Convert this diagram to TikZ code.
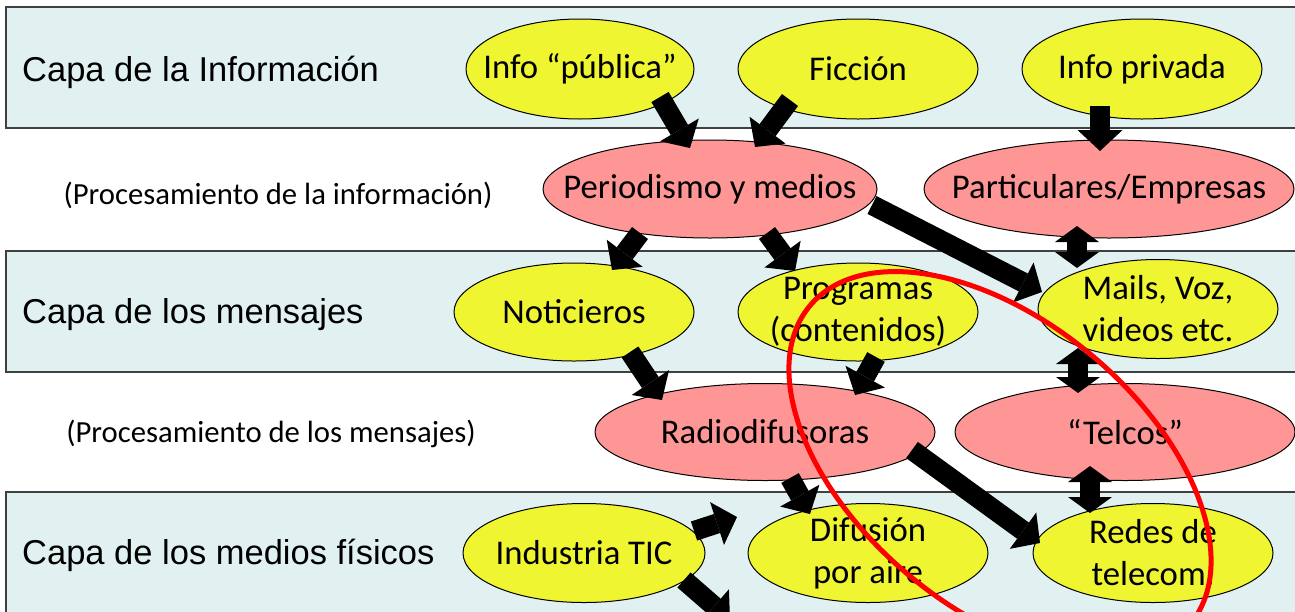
\documentclass[tikz,border=0pt]{standalone}
\usepackage{fontspec}
\setmainfont{Carlito}
\newfontfamily\arialf{Liberation Sans}
\usetikzlibrary{shapes.geometric,arrows.meta}
\definecolor{boxfill}{RGB}{225,241,242}
\definecolor{ylw}{RGB}{240,245,50}
\definecolor{pnk}{RGB}{255,150,150}
\definecolor{boxline}{RGB}{64,64,64}
\begin{document}
\begin{tikzpicture}[x=1pt,y=-1pt,
  layerbox/.style={draw=boxline, line width=1.5pt, fill=boxfill},
  ell/.style={ellipse, draw=black, line width=1pt, inner sep=-150pt, align=center,
              font=\fontsize{34.7}{42}\selectfont},
  yel/.style={ell, fill=ylw},
  pnkn/.style={ell, fill=pnk},
  lbl/.style={anchor=west, inner sep=0pt, font=\arialf\fontsize{34.5}{40}\selectfont},
  proc/.style={inner sep=0pt, font=\fontsize{30.7}{36}\selectfont},
  blk/.style={line width=20pt, -{Triangle[length=21pt,width=45pt,line width=0pt]}},
  dbl/.style={line width=20pt, {Triangle[length=16pt,width=44pt,line width=0pt]}-{Triangle[length=16pt,width=44pt,line width=0pt]}},
  redring/.style={draw=red, line width=5pt}
]
\useasboundingbox (0,0) rectangle (1295,611);
\clip (0,0) rectangle (1295,611);

% layers
\path[layerbox] (6,7) rectangle (1320,128);
\path[layerbox] (6,251) rectangle (1320,372);
\path[layerbox] (6,492) rectangle (1320,650);

% layer labels
\node[lbl] (l1) at (22,72) {Capa de la Información};
\node[lbl] (l2) at (22,315) {Capa de los mensajes};
\node[lbl] (l3) at (22,555) {Capa de los medios físicos};
\node[proc] (p1) at (278,195) {(Procesamiento de la información)};
\node[proc] (p2) at (271,434) {(Procesamiento de los mensajes)};

% ellipses
\node[yel, minimum width=228pt, minimum height=100pt] (infopub) at (580,69) {Info “pública”};
\node[yel, minimum width=240pt, minimum height=100pt] (ficcion) at (858,69) {Ficción};
\node[yel, minimum width=240pt, minimum height=100pt] (infopriv) at (1142,69) {Info privada};
\node[pnkn, minimum width=334pt, minimum height=98pt] (period) at (710,189) {Periodismo y medios};
\node[pnkn, minimum width=370pt, minimum height=98pt] (partic) at (1109,189) {Particulares/Empresas};
\node[yel, minimum width=240pt, minimum height=98pt] (notic) at (574,312) {Noticieros};
\node[yel, minimum width=240pt, minimum height=98pt] (progr) at (858,312) {Programas\\(contenidos)};
\node[yel, minimum width=240pt, minimum height=99pt] (mails) at (1158,309) {Mails, Voz,\\videos etc.};
\node[pnkn, minimum width=340pt, minimum height=97pt] (radio) at (765,432) {Radiodifusoras};
\node[pnkn, minimum width=340pt, minimum height=97pt] (telcos) at (1125,432) {“Telcos”};
\node[yel, minimum width=242pt, minimum height=99pt] (indus) at (584,553) {Industria TIC};
\node[yel, minimum width=240pt, minimum height=99pt] (difus) at (868,553) {Difusión\\por aire};
\node[yel, minimum width=240pt, minimum height=99pt] (redes) at (1153,553) {Redes de\\telecom.};
\coordinate (offb) at (730,620);

% arrows
\draw[blk] ([shift={(80,28)}]infopub.center) -- ([shift={(-20,-41)}]period.center);
\draw[blk] ([shift={(-68,31)}]ficcion.center) -- ([shift={(45,-42)}]period.center);
\draw[blk] ([shift={(-42,37)}]infopriv.center) -- ([shift={(-9,-38)}]partic.center);
\draw[blk] ([shift={(162,16)}]period.center) -- ([shift={(-116,-17)}]mails.center);
\draw[blk] ([shift={(-70,44)}]period.center) -- ([shift={(38,-42)}]notic.center);
\draw[blk] ([shift={(57,44)}]period.center) -- ([shift={(-63,-41)}]progr.center);
\draw[dbl] ([shift={(-32,37)}]partic.center) -- ([shift={(-81,-41)}]mails.center);
\draw[blk] ([shift={(56,40)}]notic.center) -- ([shift={(-103,-32)}]radio.center);
\draw[blk] ([shift={(18,45)}]progr.center) -- ([shift={(90,-37)}]radio.center);
\draw[dbl] ([shift={(-80,39)}]mails.center) -- ([shift={(-47,-39)}]telcos.center);
\draw[dbl] ([shift={(-35,34)}]telcos.center) -- ([shift={(-63,-40)}]redes.center);
\draw[blk] ([shift={(25,46)}]radio.center) -- ([shift={(-58,-39)}]difus.center);
\draw[blk] ([shift={(147,18)}]radio.center) -- ([shift={(-113,-10)}]redes.center);
\draw[blk] ([shift={(110,-22)}]indus.center) -- ([shift={(-131,-36)}]difus.center);
\draw[blk] ([shift={(100,27)}]indus.center) -- (offb);

% red ring
\draw[redring, rotate around={-40:(1000,465)}] (1000,465) ellipse [x radius=248, y radius=143];
\end{tikzpicture}
\end{document}
